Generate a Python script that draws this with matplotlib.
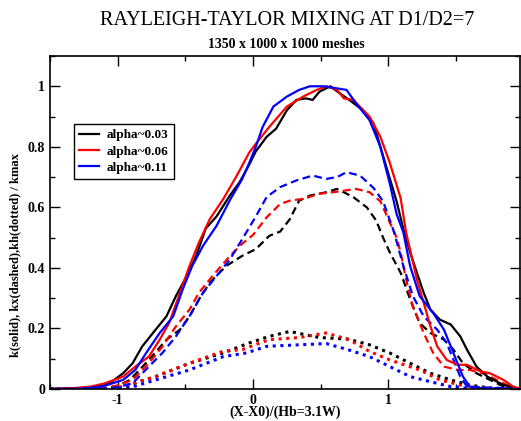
import matplotlib
matplotlib.use("Agg")
import matplotlib.pyplot as plt
from matplotlib.ticker import MultipleLocator

plt.rcParams['font.family'] = ['Liberation Serif', 'DejaVu Serif']

# k (solid) / kmax
k03_x = [-1.5, -1.3, -1.2, -1.1, -1.06, -0.96, -0.89, -0.82, -0.72, -0.64, -0.57, -0.49, -0.42, -0.35,
         -0.27, -0.17, -0.1, -0.03, 0.02, 0.1, 0.17, 0.25, 0.32, 0.39, 0.44, 0.49, 0.57, 0.64, 0.71,
         0.81, 0.89, 0.94, 0.99, 1.06, 1.11, 1.16, 1.21, 1.26, 1.31, 1.38, 1.46, 1.53, 1.58, 1.65,
         1.73, 1.85, 1.98]
k03_y = [0, 0.002, 0.005, 0.012, 0.019, 0.052, 0.085, 0.14, 0.196, 0.24, 0.307, 0.373, 0.44, 0.53,
         0.57, 0.64, 0.683, 0.74, 0.785, 0.833, 0.86, 0.921, 0.955, 0.96, 0.955, 0.982, 1.0, 0.977, 0.955,
         0.921, 0.877, 0.8, 0.725, 0.62, 0.528, 0.451, 0.384, 0.318, 0.262, 0.229, 0.213, 0.174, 0.13, 0.074,
         0.041, 0.013, 0]
k06_x = [-1.5, -1.35, -1.2, -1.1, -0.96, -0.87, -0.77, -0.69, -0.62, -0.54, -0.47, -0.40, -0.32, -0.22,
         -0.12, -0.03, 0.02, 0.12, 0.25, 0.37, 0.47, 0.54, 0.62, 0.67, 0.74, 0.86, 0.94, 1.01, 1.09,
         1.13, 1.21, 1.26, 1.31, 1.36, 1.43, 1.51, 1.58, 1.68, 1.75, 1.85, 1.92, 1.98]
k06_y = [0, 0.002, 0.008, 0.018, 0.041, 0.074, 0.107, 0.163, 0.218, 0.318, 0.406, 0.484, 0.561, 0.628,
         0.705, 0.78, 0.81, 0.866, 0.933, 0.966, 0.988, 1.0, 0.988, 0.96, 0.955, 0.9, 0.833, 0.747, 0.63,
         0.517, 0.362, 0.285, 0.207, 0.141, 0.096, 0.08, 0.08, 0.058, 0.052, 0.03, 0.008, 0]
k11_x = [-1.5, -1.3, -1.2, -1.1, -0.96, -0.87, -0.79, -0.69, -0.59, -0.52, -0.45, -0.37, -0.27, -0.17,
         -0.08, -0.03, 0.02, 0.07, 0.15, 0.25, 0.34, 0.42, 0.52, 0.62, 0.69, 0.76, 0.86, 0.94, 1.01, 1.06,
         1.11, 1.16, 1.23, 1.33, 1.41, 1.46, 1.51, 1.55, 1.6, 1.7, 1.98]
k11_y = [0, 0.001, 0.004, 0.01, 0.03, 0.063, 0.119, 0.185, 0.24, 0.329, 0.406, 0.473, 0.539, 0.625,
         0.694, 0.745, 0.8, 0.865, 0.933, 0.966, 0.988, 1.0, 1.0, 0.993, 0.988, 0.944, 0.888, 0.8, 0.678,
         0.578, 0.517, 0.406, 0.307, 0.251, 0.196, 0.141, 0.085, 0.041, 0.008, 0.002, 0]

# kx (dashed) / kmax
kx03_x = [-1.5, -1.1, -1.0, -0.91, -0.77, -0.64, -0.54, -0.47, -0.40, -0.32, -0.2, -0.08, 0.02, 0.12,
          0.2, 0.27, 0.34, 0.42, 0.54, 0.62, 0.74, 0.84, 0.91, 0.96, 1.01, 1.09, 1.16, 1.23, 1.31, 1.41,
          1.48, 1.55, 1.65, 1.75, 1.85, 1.98]
kx03_y = [0, 0.002, 0.01, 0.03, 0.096, 0.163, 0.196, 0.24, 0.296, 0.351, 0.406, 0.44, 0.462, 0.506,
          0.52, 0.56, 0.622, 0.639, 0.65, 0.661, 0.634, 0.6, 0.556, 0.5, 0.451, 0.384, 0.296, 0.218, 0.185,
          0.163, 0.13, 0.085, 0.052, 0.03, 0.008, 0]
kx06_x = [-1.5, -1.1, -1.0, -0.89, -0.77, -0.67, -0.57, -0.47, -0.40, -0.30, -0.17, -0.08, 0, 0.1, 0.2,
          0.27, 0.37, 0.49, 0.59, 0.67, 0.76, 0.86, 0.94, 1.01, 1.06, 1.09, 1.13, 1.18, 1.26, 1.33, 1.41,
          1.51, 1.6, 1.7, 1.8, 1.9, 1.98]
kx06_y = [0, 0.002, 0.012, 0.03, 0.085, 0.14, 0.207, 0.262, 0.318, 0.373, 0.44, 0.48, 0.509, 0.567, 0.611,
          0.622, 0.628, 0.645, 0.65, 0.655, 0.661, 0.65, 0.62, 0.55, 0.5, 0.451, 0.362, 0.273, 0.185, 0.119,
          0.074, 0.063, 0.063, 0.052, 0.03, 0.008, 0]
kx11_x = [-1.5, -1.1, -1.0, -0.89, -0.77, -0.67, -0.57, -0.47, -0.37, -0.27, -0.17, -0.08, 0.02, 0.1,
          0.2, 0.32, 0.44, 0.54, 0.62, 0.69, 0.79, 0.89, 0.96, 1.04, 1.11, 1.18, 1.26, 1.36, 1.43, 1.48,
          1.53, 1.58, 1.98]
kx11_y = [0, 0.001, 0.006, 0.019, 0.074, 0.119, 0.174, 0.24, 0.318, 0.373, 0.429, 0.495, 0.57, 0.634,
          0.667, 0.689, 0.705, 0.694, 0.7, 0.716, 0.705, 0.664, 0.62, 0.52, 0.406, 0.307, 0.24, 0.196,
          0.152, 0.096, 0.041, 0.008, 0]

# kh (dotted) / kmax
kh03_x = [-1.5, -1.05, -0.96, -0.72, -0.47, -0.22, -0.03, 0.12, 0.27, 0.49, 0.7, 0.86, 1.01, 1.16,
          1.31, 1.46, 1.6, 1.75, 1.98]
kh03_y = [0, 0.002, 0.008, 0.041, 0.085, 0.119, 0.152, 0.174, 0.19, 0.17, 0.165, 0.146, 0.119, 0.085,
          0.052, 0.03, 0.013, 0.003, 0]
kh06_x = [-1.5, -1.05, -0.96, -0.72, -0.47, -0.22, -0.08, 0.05, 0.12, 0.34, 0.54, 0.71, 0.86, 1.01,
          1.23, 1.38, 1.53, 1.68, 1.98]
kh06_y = [0, 0.001, 0.007, 0.041, 0.085, 0.125, 0.13, 0.152, 0.163, 0.17, 0.185, 0.163, 0.124, 0.096,
          0.063, 0.03, 0.013, 0.003, 0]
kh11_x = [-1.5, -1.0, -0.89, -0.72, -0.47, -0.22, -0.05, 0.1, 0.34, 0.54, 0.7, 0.86, 1.01, 1.16, 1.31,
          1.46, 1.6, 1.98]
kh11_y = [0, 0.001, 0.007, 0.03, 0.063, 0.107, 0.119, 0.141, 0.146, 0.15, 0.13, 0.107, 0.074, 0.041,
          0.024, 0.008, 0.002, 0]

labels = ['alpha~0.03', 'alpha~0.06', 'alpha~0.11']
colors = ['#000000', '#ff0000', '#0000ff']

fig = plt.figure(figsize=(5.21, 4.21), dpi=100)
ax = fig.add_axes([0.096, 0.076, 0.903, 0.791])

dashed = (0, (3.5, 2))
dotted = (0, (1, 1.5))

solid_sets = [(k03_x, k03_y), (k06_x, k06_y), (k11_x, k11_y)]
dash_sets = [(kx03_x, kx03_y), (kx06_x, kx06_y), (kx11_x, kx11_y)]
dot_sets = [(kh03_x, kh03_y), (kh06_x, kh06_y), (kh11_x, kh11_y)]

for (xs, ys), c in zip(dot_sets, colors):
    ax.plot(xs, ys, color=c, lw=2.2, linestyle=dotted)
for (xs, ys), c in zip(dash_sets, colors):
    ax.plot(xs, ys, color=c, lw=1.6, linestyle=dashed)
for (xs, ys), c, lab in zip(solid_sets, colors, labels):
    ax.plot(xs, ys, color=c, lw=1.6, label=lab)

ax.set_xlim(-1.5, 1.975)
ax.set_ylim(0, 1.1)

ax.xaxis.set_major_locator(MultipleLocator(1))
ax.xaxis.set_minor_locator(MultipleLocator(0.5))
ax.yaxis.set_major_locator(MultipleLocator(0.2))
ax.yaxis.set_minor_locator(MultipleLocator(0.1))
ax.tick_params(which='both', direction='in', top=True, right=True, width=1)
ax.tick_params(which='major', length=7.2, labelsize=10)
ax.tick_params(which='minor', length=3.6)
ax.set_xticks([-1, 0, 1])
ax.set_xticklabels(['-1', '0', '1'], fontweight='bold')
ax.set_yticks([0, 0.2, 0.4, 0.6, 0.8, 1.0])
ax.set_yticklabels(['0', '0.2', '0.4', '0.6', '0.8', '1'], fontweight='bold')
for s in ax.spines.values():
    s.set_linewidth(1.2)

leg = ax.legend(loc='upper left', bbox_to_anchor=(0.051, 0.796), borderaxespad=0, fancybox=False,
                framealpha=1, edgecolor='black', prop={'weight': 'bold', 'size': 9.5},
                handlelength=1.5, borderpad=0.4, labelspacing=0.3, handletextpad=0.6)
leg.get_frame().set_linewidth(1.0)

fig.text(0.548, 0.021, '(X-X0)/(Hb=3.1W)', ha='center', va='center', fontsize=10, fontweight='bold')
fig.text(0.03, 0.394, 'k(solid), kx(dashed),kh(dotted) / kmax', rotation=90,
         ha='center', va='center', fontsize=9, fontweight='bold')

fig.text(0.551, 0.952, 'RAYLEIGH-TAYLOR MIXING AT D1/D2=7', ha='center', va='center', fontsize=14.5)
fig.text(0.55, 0.895, '1350 x 1000 x 1000 meshes', ha='center', va='center', fontsize=10,
         fontweight='bold')

fig.savefig('out.png', dpi=100)
